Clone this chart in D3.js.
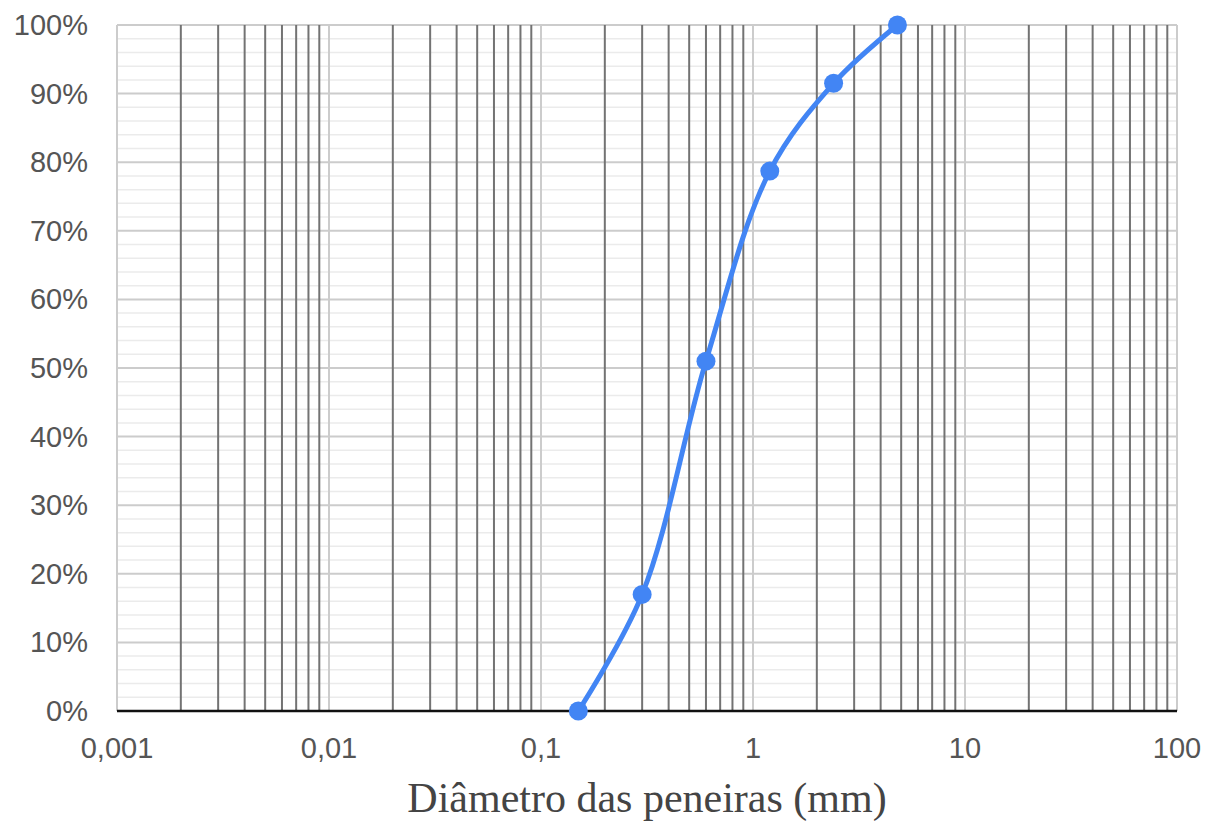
<!DOCTYPE html>
<html><head><meta charset="utf-8">
<script src="https://cdn.jsdelivr.net/npm/d3@7"></script>
<style>body{margin:0;background:#fff}</style>
</head><body>
<svg id="c" width="1206" height="821"></svg>
<script>
const diameters = [0.15, 0.3, 0.6, 1.2, 2.4, 4.8];
const passing = [0, 17, 51, 78.7, 91.5, 100];
const xTickValues = [0.001, 0.01, 0.1, 1, 10, 100];
const xTickLabels = ["0,001", "0,01", "0,1", "1", "10", "100"];
const yTickValues = [0,10,20,30,40,50,60,70,80,90,100];
const xTitle = "Diâmetro das peneiras (mm)";

const svg = d3.select("#c");
const L=117,R=1177,T=25,B=711;
const x = d3.scaleLog().domain([0.001,100]).range([L,R]);
const y = d3.scaleLinear().domain([0,100]).range([B,T]);

// minor horizontal gridlines every 2%
const minorY = d3.range(0,101,2).filter(v=>v%10!==0);
svg.append("g").selectAll("line").data(minorY).join("line")
 .attr("x1",L).attr("x2",R).attr("y1",d=>y(d)).attr("y2",d=>y(d))
 .attr("stroke","#ebebeb").attr("stroke-width",1.5);
svg.append("g").selectAll("line").data(yTickValues).join("line")
 .attr("x1",L).attr("x2",R).attr("y1",d=>y(d)).attr("y2",d=>y(d))
 .attr("stroke","#cccccc").attr("stroke-width",2);

// vertical decade lines (light) and minor (dark)
const minorX=[];
for(let e=-3;e<2;e++){for(let k=2;k<=9;k++){minorX.push(k*Math.pow(10,e));}}
svg.append("g").selectAll("line").data(xTickValues).join("line")
 .attr("x1",d=>x(d)).attr("x2",d=>x(d)).attr("y1",T).attr("y2",B)
 .attr("stroke","#cccccc").attr("stroke-width",2);
svg.append("g").selectAll("line").data(minorX).join("line")
 .attr("x1",d=>x(d)).attr("x2",d=>x(d)).attr("y1",T).attr("y2",B)
 .attr("stroke","#737373").attr("stroke-width",2);

// baseline
svg.append("line").attr("x1",L).attr("x2",R).attr("y1",B).attr("y2",B)
 .attr("stroke","#111").attr("stroke-width",2.5);

// y labels
svg.append("g").selectAll("text").data(yTickValues).join("text")
 .attr("x",88).attr("y",d=>y(d)+10).attr("text-anchor","end")
 .attr("font-family","Liberation Sans, Arial, sans-serif").attr("font-size",29)
 .attr("fill","#555").text(d=>d+"%");
// x labels
svg.append("g").selectAll("text").data(xTickValues).join("text")
 .attr("x",d=>x(d)).attr("y",758).attr("text-anchor","middle")
 .attr("font-family","Liberation Sans, Arial, sans-serif").attr("font-size",29)
 .attr("fill","#555").text((d,i)=>xTickLabels[i]);
svg.append("text").attr("x",647).attr("y",812).attr("text-anchor","middle")
 .attr("font-family","Liberation Serif, Times New Roman, serif").attr("font-size",42)
 .attr("fill","#444").text(xTitle);

const data = diameters.map((d,i)=>({d, p:passing[i]}));
const line = d3.line().x(o=>x(o.d)).y(o=>y(o.p)).curve(d3.curveCatmullRom.alpha(0.5));
svg.append("path").datum(data).attr("d",line).attr("fill","none")
 .attr("stroke","#4285f4").attr("stroke-width",5);
svg.append("g").selectAll("circle").data(data).join("circle")
 .attr("cx",o=>x(o.d)).attr("cy",o=>y(o.p)).attr("r",9.5).attr("fill","#4285f4");
</script>
</body></html>
